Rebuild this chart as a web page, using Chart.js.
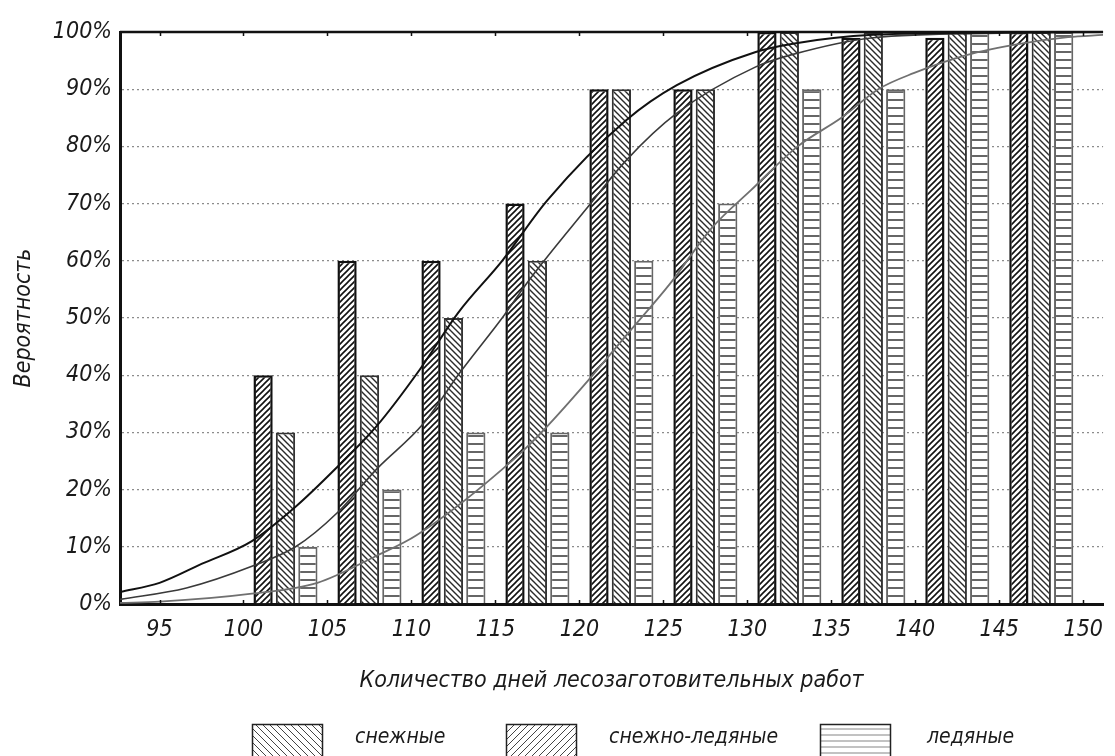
<!DOCTYPE html>
<html>
<head>
<meta charset="utf-8">
<script src="https://cdn.jsdelivr.net/npm/chart.js@4.4.1/dist/chart.umd.min.js"></script>
<style>
  html, body { margin: 0; padding: 0; background: #fff; }
  canvas { display: block; }
</style>
</head>
<body>
<canvas id="myChart" width="1115" height="756"></canvas>
<script>
// --- data ---
var groupCenters = [102.5, 107.5, 112.5, 117.5, 122.5, 127.5, 132.5, 137.5, 142.5, 147.5];
var snowBars     = [40, 60, 60, 70, 90, 90, 100, 99, 99, 100];
var mixBars      = [30, 40, 50, 60, 90, 90, 100, 100, 100, 100];
var iceBars      = [10, 20, 30, 30, 60, 70, 90, 90, 100, 100];

var seriesNames = ['снежные', 'снежно-ледяные', 'ледяные'];

var snowCurveX = [92.65, 95, 97.5, 100.5, 103.1, 105.6, 107.9, 110.5, 112.8, 115.4, 118.1, 122.8, 125.8, 130.5, 132.8, 137.5, 145, 151.2];
var snowCurveY = [2.1, 3.7, 7, 11, 17, 24, 31, 41, 51, 60, 70.6, 84.6, 90.7, 96.5, 98, 99.5, 99.9, 100];

var mixCurveX = [92.65, 96.6, 100.5, 103.1, 105.6, 107.9, 110.7, 112.9, 115.5, 117, 120.5, 122.8, 125.8, 130.5, 132.6, 137.5, 145, 151.2];
var mixCurveY = [0.8, 2.8, 6.6, 10, 16, 23.5, 31.5, 40.5, 50.4, 56.6, 69.4, 77.6, 85.8, 93.9, 96, 99, 99.8, 100];

var iceCurveX = [92.65, 95, 100.5, 104.4, 107.9, 110.3, 116.2, 118, 120.5, 122.8, 125.4, 127.9, 130.2, 133, 135.6, 137.8, 139.9, 143.1, 146.4, 149.1, 151.2];
var iceCurveY = [0.2, 0.4, 1.8, 3.7, 8.4, 12, 25.6, 30.8, 39, 47, 56, 65.8, 72.3, 80, 85, 90, 92.8, 96, 98, 99.1, 99.5];

var xTicks = [95, 100, 105, 110, 115, 120, 125, 130, 135, 140, 145, 150];
var yTicks = [0, 10, 20, 30, 40, 50, 60, 70, 80, 90, 100];

var xTitle = 'Количество дней лесозаготовительных работ';
var yTitle = 'Вероятность';

// --- helpers ---
function pts(xs, ys) {
  return xs.map(function (x, i) { return { x: x, y: ys[i] }; });
}

var ctx = document.getElementById('myChart').getContext('2d');

function hatch(kind, color, step, lw) {
  var c = document.createElement('canvas');
  c.width = step; c.height = step;
  var g = c.getContext('2d');
  g.fillStyle = '#fff';
  g.fillRect(0, 0, step, step);
  g.strokeStyle = color;
  g.lineWidth = lw;
  g.beginPath();
  if (kind === '/') {
    g.moveTo(-1, step + 1); g.lineTo(step + 1, -1);
    g.moveTo(-2, 2); g.lineTo(2, -2);
    g.moveTo(step - 2, step + 2); g.lineTo(step + 2, step - 2);
  } else if (kind === '\\') {
    g.moveTo(-1, -1); g.lineTo(step + 1, step + 1);
    g.moveTo(step - 2, -2); g.lineTo(step + 2, 2);
    g.moveTo(-2, step - 2); g.lineTo(2, step + 2);
  } else {
    g.moveTo(0, step / 2); g.lineTo(step, step / 2);
  }
  g.stroke();
  return ctx.createPattern(c, 'repeat');
}

var snowFill = hatch('/', '#111', 6, 1.6);
var mixFill = hatch('\\', '#2a2a2a', 6, 1.4);
var iceFill = hatch('-', '#666', 8, 2);

var legendFills = [
  hatch('\\', '#444', 7, 1),
  hatch('/', '#444', 7, 1),
  hatch('-', '#999', 6, 1.2)
];

var FONT = "'Liberation Sans Narrow', 'DejaVu Sans Condensed', 'Roboto', sans-serif";
Chart.defaults.font.family = FONT;
Chart.defaults.font.style = 'italic';
Chart.defaults.color = '#1a1a1a';

var framePlugin = {
  id: 'frame',
  afterDraw: function (chart) {
    var a = chart.chartArea, c = chart.ctx, xs = chart.scales.x;
    c.save();
    c.strokeStyle = '#111';
    c.lineWidth = 2.5;
    c.beginPath();
    c.moveTo(a.left, a.top);
    c.lineTo(a.right, a.top);
    c.stroke();
    c.lineWidth = 1.5;
    c.beginPath();
    xTicks.forEach(function (v) {
      var px = Math.round(xs.getPixelForValue(v)) + 0.5;
      c.moveTo(px, a.bottom); c.lineTo(px, a.bottom - 4);
      c.moveTo(px, a.top); c.lineTo(px, a.top + 4);
    });
    c.stroke();
    c.restore();
  }
};

var legendPlugin = {
  id: 'bottomLegend',
  afterDraw: function (chart) {
    var c = chart.ctx;
    var boxX = [252, 506, 820];
    var textX = [355, 609, 927];
    c.save();
    for (var i = 0; i < seriesNames.length; i++) {
      c.fillStyle = legendFills[i];
      c.fillRect(boxX[i], 724, 71, 40);
      c.strokeStyle = '#222';
      c.lineWidth = 1.5;
      c.strokeRect(boxX[i] + 0.5, 724.5, 70, 40);
      c.fillStyle = '#1a1a1a';
      c.font = 'italic 21px ' + FONT;
      c.textBaseline = 'middle';
      c.fillText(seriesNames[i], textX[i], 738);
    }
    c.restore();
  }
};

var myChart = new Chart(ctx, {
  type: 'bar',
  data: {
    datasets: [
      {
        type: 'line', label: seriesNames[0] + ' (кривая)', data: pts(snowCurveX, snowCurveY),
        borderColor: '#111', borderWidth: 2, pointRadius: 0, cubicInterpolationMode: 'monotone', order: 0
      },
      {
        type: 'line', label: seriesNames[1] + ' (кривая)', data: pts(mixCurveX, mixCurveY),
        borderColor: '#3a3a3a', borderWidth: 1.6, pointRadius: 0, cubicInterpolationMode: 'monotone', order: 0
      },
      {
        type: 'line', label: seriesNames[2] + ' (кривая)', data: pts(iceCurveX, iceCurveY),
        borderColor: '#707070', borderWidth: 1.8, pointRadius: 0, cubicInterpolationMode: 'monotone', order: 0
      },
      {
        label: seriesNames[0], data: pts(groupCenters, snowBars),
        backgroundColor: snowFill, borderColor: '#111', borderWidth: 2.5, order: 1
      },
      {
        label: seriesNames[1], data: pts(groupCenters, mixBars),
        backgroundColor: mixFill, borderColor: '#333', borderWidth: 2, order: 1
      },
      {
        label: seriesNames[2], data: pts(groupCenters, iceBars),
        backgroundColor: iceFill, borderColor: '#666', borderWidth: 2, order: 1
      }
    ]
  },
  options: {
    responsive: false,
    animation: false,
    devicePixelRatio: 1,
    layout: { padding: { top: 32, right: 0, bottom: 56, left: 0 } },
    categoryPercentage: 0.8,
    barPercentage: 0.86,
    plugins: {
      legend: { display: false },
      tooltip: { enabled: false }
    },
    scales: {
      x: {
        type: 'linear',
        min: 92.647,
        max: 151.18,
        offset: false,
        afterBuildTicks: function (s) { s.ticks = xTicks.map(function (v) { return { value: v }; }); },
        afterFit: function (s) { s.height = 96; },
        grid: { display: false, drawTicks: false },
        border: { display: true, color: '#111', width: 3 },
        ticks: { padding: 12, font: { size: 23 }, maxRotation: 0 },
        title: { display: true, text: xTitle, font: { size: 23 }, padding: { top: 0, bottom: 5 } }
      },
      y: {
        min: 0,
        max: 100,
        afterBuildTicks: function (s) { s.ticks = yTicks.map(function (v) { return { value: v }; }); },
        afterFit: function (s) { s.width = 120; },
        grid: {
          drawTicks: false,
          lineWidth: 1.3,
          color: function (c) {
            return (c.tick && (c.tick.value === 0 || c.tick.value === 100)) ? 'rgba(0,0,0,0)' : '#8c8c8c';
          }
        },
        border: { display: true, color: '#111', width: 3, dash: [2, 3] },
        ticks: { padding: 8, font: { size: 23 }, callback: function (v) { return v + '%'; } },
        title: { display: true, text: yTitle, font: { size: 23 }, padding: { top: 10, bottom: 0 } }
      }
    }
  },
  plugins: [framePlugin, legendPlugin]
});
</script>
</body>
</html>
